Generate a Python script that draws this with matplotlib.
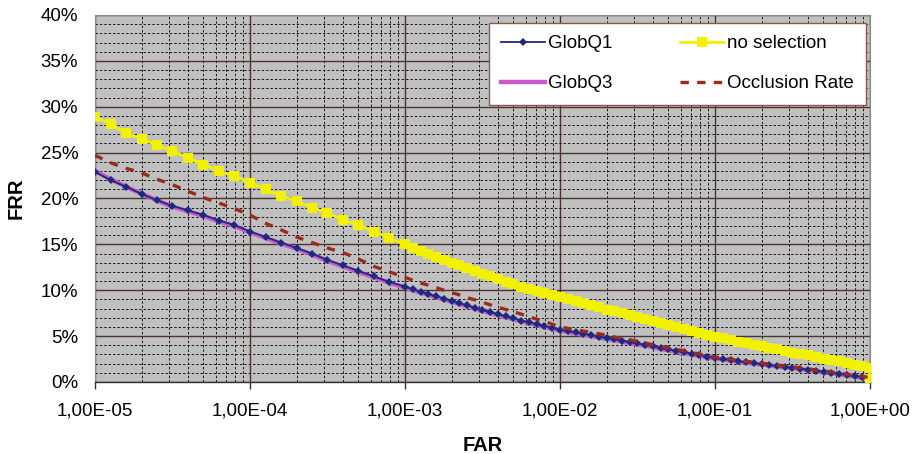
import matplotlib
matplotlib.use("Agg")
import matplotlib.pyplot as plt
from matplotlib.ticker import LogLocator, FuncFormatter, MultipleLocator, NullFormatter

plt.rcParams['font.family'] = ['Liberation Sans', 'DejaVu Sans']

# false acceptance rate (shared by all four curves)
far = [
    1.00e-5, 1.26e-5, 1.58e-5, 2.00e-5, 2.51e-5, 3.16e-5, 3.98e-5, 5.01e-5, 6.31e-5, 7.94e-5,
    1.00e-4, 1.26e-4, 1.58e-4, 2.00e-4, 2.51e-4, 3.16e-4, 3.98e-4, 5.01e-4, 6.31e-4, 7.94e-4,
    1.00e-3, 1.12e-3, 1.26e-3, 1.41e-3, 1.58e-3, 1.78e-3, 2.00e-3, 2.24e-3, 2.51e-3, 2.82e-3,
    3.16e-3, 3.55e-3, 3.98e-3, 4.47e-3, 5.01e-3, 5.62e-3, 6.31e-3, 7.08e-3, 7.94e-3, 8.91e-3,
    1.00e-2, 1.12e-2, 1.26e-2, 1.41e-2, 1.58e-2, 1.78e-2, 2.00e-2, 2.24e-2, 2.51e-2, 2.82e-2,
    3.16e-2, 3.55e-2, 3.98e-2, 4.47e-2, 5.01e-2, 5.62e-2, 6.31e-2, 7.08e-2, 7.94e-2, 8.91e-2,
    1.00e-1, 1.12e-1, 1.26e-1, 1.41e-1, 1.58e-1, 1.78e-1, 2.00e-1, 2.24e-1, 2.51e-1, 2.82e-1,
    3.16e-1, 3.55e-1, 3.98e-1, 4.47e-1, 5.01e-1, 5.62e-1, 6.31e-1, 7.08e-1, 7.94e-1, 8.91e-1,
    1.00, 1.00,
]

# false rejection rate in percent
frr_globq1 = [
    22.9, 22.0, 21.3, 20.5, 19.8, 19.2, 18.7, 18.2, 17.6, 17.1,
    16.4, 15.8, 15.2, 14.6, 14.0, 13.3, 12.7, 12.1, 11.5, 10.9,
    10.4, 10.1, 9.85, 9.6, 9.35, 9.1, 8.85, 8.6, 8.35, 8.1,
    7.85, 7.6, 7.4, 7.15, 6.95, 6.7, 6.5, 6.3, 6.1, 5.9,
    5.7, 5.55, 5.4, 5.25, 5.1, 4.95, 4.8, 4.65, 4.5, 4.35,
    4.2, 4.05, 3.9, 3.7, 3.55, 3.4, 3.25, 3.1, 2.95, 2.75,
    2.6, 2.5, 2.4, 2.25, 2.15, 2.05, 1.95, 1.85, 1.75, 1.65,
    1.55, 1.45, 1.35, 1.25, 1.1, 1.0, 0.9, 0.75, 0.65, 0.5,
    0.4, 0.2,
]
frr_globq3 = [
    23.0, 22.1, 21.3, 20.5, 19.8, 19.1, 18.6, 18.1, 17.5, 17.0,
    16.3, 15.7, 15.1, 14.5, 13.9, 13.2, 12.6, 12.0, 11.4, 10.8,
    10.3, 10.0, 9.75, 9.5, 9.25, 9.0, 8.75, 8.5, 8.25, 8.0,
    7.75, 7.5, 7.3, 7.05, 6.85, 6.6, 6.4, 6.2, 6.0, 5.8,
    5.6, 5.45, 5.3, 5.15, 5.0, 4.85, 4.7, 4.55, 4.4, 4.25,
    4.1, 3.95, 3.8, 3.6, 3.45, 3.3, 3.15, 3.0, 2.85, 2.7,
    2.55, 2.45, 2.35, 2.2, 2.1, 2.0, 1.9, 1.8, 1.7, 1.6,
    1.5, 1.4, 1.3, 1.2, 1.05, 0.95, 0.85, 0.7, 0.6, 0.45,
    0.35, 0.2,
]
frr_no_selection = [
    28.9, 28.1, 27.1, 26.5, 25.8, 25.2, 24.4, 23.7, 23.0, 22.4,
    21.7, 21.0, 20.3, 19.7, 19.0, 18.4, 17.7, 17.1, 16.4, 15.7,
    15.0, 14.65, 14.3, 13.95, 13.6, 13.3, 13.0, 12.7, 12.4, 12.1,
    11.8, 11.5, 11.2, 10.95, 10.7, 10.4, 10.15, 9.9, 9.65, 9.45,
    9.3, 9.05, 8.8, 8.6, 8.4, 8.15, 7.9, 7.7, 7.5, 7.3,
    7.1, 6.9, 6.7, 6.45, 6.25, 6.0, 5.8, 5.55, 5.35, 5.1,
    4.9, 4.75, 4.55, 4.4, 4.2, 4.05, 3.9, 3.7, 3.55, 3.4,
    3.2, 3.05, 2.9, 2.75, 2.55, 2.4, 2.25, 2.05, 1.9, 1.7,
    1.5, 0.3,
]
frr_occlusion = [
    24.7, 23.9, 23.3, 22.8, 22.1, 21.5, 20.8, 20.1, 19.5, 18.9,
    18.2, 17.3, 16.6, 15.8, 15.2, 14.6, 14.1, 13.4, 12.6, 12.0,
    11.4, 11.1, 10.8, 10.55, 10.3, 10.0, 9.75, 9.5, 9.2, 8.95,
    8.7, 8.4, 8.15, 7.9, 7.65, 7.4, 7.1, 6.85, 6.6, 6.3,
    6.0, 5.85, 5.7, 5.55, 5.4, 5.25, 5.1, 4.9, 4.75, 4.6,
    4.4, 4.25, 4.05, 3.9, 3.7, 3.55, 3.4, 3.2, 3.05, 2.85,
    2.7, 2.6, 2.5, 2.35, 2.25, 2.15, 2.05, 1.95, 1.85, 1.75,
    1.65, 1.55, 1.45, 1.3, 1.2, 1.1, 0.95, 0.85, 0.7, 0.6,
    0.5, 0.3,
]

fig = plt.figure(figsize=(9.14, 4.54), dpi=100)
ax = fig.add_axes([0.1039, 0.1586, 0.848, 0.8084])
ax.set_facecolor('#c0c0c0')

ax.set_xscale('log')
ax.set_xlim(1e-5, 1.0)
ax.set_ylim(0, 40)

# grid: solid brown majors, dashed black minors
ax.xaxis.set_major_locator(LogLocator(base=10, numticks=10))
ax.xaxis.set_minor_locator(LogLocator(base=10, subs=range(2, 10), numticks=20))
ax.xaxis.set_minor_formatter(NullFormatter())
ax.yaxis.set_major_locator(MultipleLocator(5))
ax.yaxis.set_minor_locator(MultipleLocator(1))
ax.grid(which='major', color='#4a3530', linewidth=1.0, linestyle='-')
ax.grid(which='minor', color='#1a1a1a', linewidth=0.7, linestyle=(0, (2.5, 2)))
ax.set_axisbelow(True)

ax.plot(far, frr_globq3, color='#c95ac9', linewidth=3.2, label='GlobQ3', zorder=3)
ax.plot(far, frr_globq1, color='#1c2a80', linewidth=1.3, marker='D', markersize=4,
        markeredgewidth=0, label='GlobQ1', zorder=4)
ax.plot(far, frr_no_selection, color='#f2f200', linewidth=2.0, marker='s', markersize=7.5,
        markeredgewidth=0, label='no selection', zorder=5)
ax.plot(far, frr_occlusion, color='#9a2a1c', linewidth=2.4, linestyle=(0, (2.5, 2.5)),
        label='Occlusion Rate', zorder=6)

ax.xaxis.set_major_formatter(FuncFormatter(lambda v, p: f'{v:.2E}'.replace('.', ',')))
ax.yaxis.set_major_formatter(FuncFormatter(lambda v, p: f'{v:.0f}%'))

ax.tick_params(axis='x', which='major', length=5, width=1, color='#333333', pad=10,
               labelsize=13.5, direction='out')
ax.tick_params(axis='x', which='minor', length=0)
ax.tick_params(axis='y', which='both', length=0, pad=12, labelsize=13.5)

for side in ('top', 'right', 'left'):
    ax.spines[side].set_color('#8a8a8a')
    ax.spines[side].set_linewidth(0.8)
ax.spines['bottom'].set_color('#333333')
ax.spines['bottom'].set_linewidth(1.0)

ax.set_xlabel('FAR', fontsize=14.5, fontweight='bold', labelpad=12)
ax.set_ylabel('FRR', fontsize=14.5, fontweight='bold', labelpad=11)

h, l = ax.get_legend_handles_labels()
order = [1, 0, 2, 3]
leg = ax.legend([h[i] for i in order], [l[i] for i in order], ncol=2, loc='upper right',
                bbox_to_anchor=(0.995, 0.978), fontsize=13.5, frameon=True, fancybox=False,
                framealpha=1, edgecolor='#8a5a50', handlelength=2.35, handletextpad=0.16,
                columnspacing=3.6, labelspacing=1.22, borderpad=0.65, borderaxespad=0)
leg.get_frame().set_linewidth(1.0)
leg.set_zorder(10)

fig.savefig('out.png', dpi=100, facecolor='white')
